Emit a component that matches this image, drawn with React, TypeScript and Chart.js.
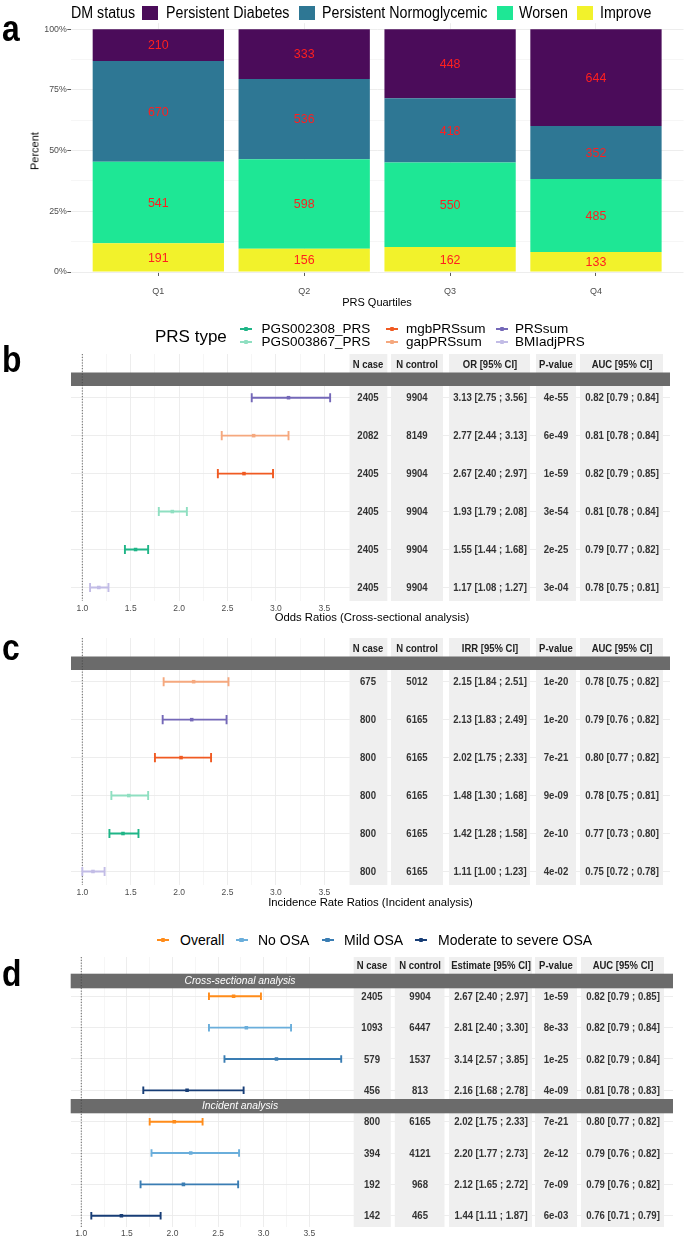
import React, { useEffect, useRef } from "react";
import { Chart, registerables } from "chart.js";

Chart.register(...registerables);

const SANS = "'Liberation Sans', Arial, Helvetica, sans-serif";

// ---------------- Panel a data ----------------
const quartiles = ["Q1", "Q2", "Q3", "Q4"];
const persistentDiabetes = [210, 333, 448, 644];
const persistentNormoglycemic = [670, 536, 418, 352];
const worsen = [541, 598, 550, 485];
const improve = [191, 156, 162, 133];
const percentTicks = [0, 12.5, 25, 37.5, 50, 62.5, 75, 87.5, 100];
const dmLegend = ["Persistent Diabetes", "Persistent Normoglycemic", "Worsen", "Improve"];

// ---------------- Panel b data (cross-sectional) ----------------
const csTypes = ["PRSsum", "gapPRSsum", "mgbPRSsum", "PGS003867_PRS", "PGS002308_PRS", "BMIadjPRS"];
const csNCase = [2405, 2082, 2405, 2405, 2405, 2405];
const csNControl = [9904, 8149, 9904, 9904, 9904, 9904];
const csOR = [3.13, 2.77, 2.67, 1.93, 1.55, 1.17];
const csLower = [2.75, 2.44, 2.4, 1.79, 1.44, 1.08];
const csUpper = [3.56, 3.13, 2.97, 2.08, 1.68, 1.27];
const csP = ["4e-55", "6e-49", "1e-59", "3e-54", "2e-25", "3e-04"];
const csAUC = [0.82, 0.81, 0.82, 0.81, 0.79, 0.78];
const csAUCLower = [0.79, 0.78, 0.79, 0.78, 0.77, 0.75];
const csAUCUpper = [0.84, 0.84, 0.85, 0.84, 0.82, 0.81];

// ---------------- Panel c data (incident) ----------------
const incTypes = ["gapPRSsum", "PRSsum", "mgbPRSsum", "PGS003867_PRS", "PGS002308_PRS", "BMIadjPRS"];
const incNCase = [675, 800, 800, 800, 800, 800];
const incNControl = [5012, 6165, 6165, 6165, 6165, 6165];
const incIRR = [2.15, 2.13, 2.02, 1.48, 1.42, 1.11];
const incLower = [1.84, 1.83, 1.75, 1.3, 1.28, 1.0];
const incUpper = [2.51, 2.49, 2.33, 1.68, 1.58, 1.23];
const incP = ["1e-20", "1e-20", "7e-21", "9e-09", "2e-10", "4e-02"];
const incAUC = [0.78, 0.79, 0.8, 0.78, 0.77, 0.75];
const incAUCLower = [0.75, 0.76, 0.77, 0.75, 0.73, 0.72];
const incAUCUpper = [0.82, 0.82, 0.82, 0.81, 0.8, 0.78];

// ---------------- Panel d data (OSA strata) ----------------
const osaGroups = ["Overall", "No OSA", "Mild OSA", "Moderate to severe OSA", "Overall", "No OSA", "Mild OSA", "Moderate to severe OSA"];
const osaSections = ["Cross-sectional analysis", "Incident analysis"];
const osaNCase = [2405, 1093, 579, 456, 800, 394, 192, 142];
const osaNControl = [9904, 6447, 1537, 813, 6165, 4121, 968, 465];
const osaEst = [2.67, 2.81, 3.14, 2.16, 2.02, 2.2, 2.12, 1.44];
const osaLower = [2.4, 2.4, 2.57, 1.68, 1.75, 1.77, 1.65, 1.11];
const osaUpper = [2.97, 3.3, 3.85, 2.78, 2.33, 2.73, 2.72, 1.87];
const osaP = ["1e-59", "8e-33", "1e-25", "4e-09", "7e-21", "2e-12", "7e-09", "6e-03"];
const osaAUC = [0.82, 0.82, 0.82, 0.81, 0.8, 0.79, 0.79, 0.76];
const osaAUCLower = [0.79, 0.79, 0.79, 0.78, 0.77, 0.76, 0.76, 0.71];
const osaAUCUpper = [0.85, 0.84, 0.84, 0.83, 0.82, 0.82, 0.82, 0.79];

const ratioTicks = [1, 1.25, 1.5, 1.75, 2, 2.25, 2.5, 2.75, 3, 3.25, 3.5];

const prsLegendOrder = ["PGS002308_PRS", "PGS003867_PRS", "mgbPRSsum", "gapPRSsum", "PRSsum", "BMIadjPRS"];
const osaLegendOrder = ["Overall", "No OSA", "Mild OSA", "Moderate to severe OSA"];

// ---------------- styles ----------------
const dmColors: Record<string, string> = {
  "Persistent Diabetes": "#4B0C5A",
  "Persistent Normoglycemic": "#2E7794",
  Worsen: "#1EE795",
  Improve: "#F2F22B",
};
const prsColors: Record<string, string> = {
  PGS002308_PRS: "#1FB587",
  PGS003867_PRS: "#8FDFC1",
  mgbPRSsum: "#F05A22",
  gapPRSsum: "#F5A87E",
  PRSsum: "#7468B8",
  BMIadjPRS: "#C2BCE6",
};
const osaColors: Record<string, string> = {
  Overall: "#FF8C1A",
  "No OSA": "#6AAEDB",
  "Mild OSA": "#3A7DB3",
  "Moderate to severe OSA": "#173D76",
};

const ci = (e: number, l: number, u: number) => `${e.toFixed(2)} [${l.toFixed(2)} ; ${u.toFixed(2)}]`;
const isMajorRatio = (v: number) => Math.abs(v * 2 - Math.round(v * 2)) < 1e-9;

// ---------------- text helper ----------------
type TP = {
  x: number; y: number; children: React.ReactNode; size?: number;
  anchor?: "start" | "middle" | "end"; weight?: number; color?: string;
  italic?: boolean; sx?: number; baseline?: boolean; rotate?: boolean;
};
function T({ x, y, children, size = 11, anchor = "start", weight = 400, color = "#000", italic = false, sx = 1, baseline = false, rotate = false }: TP) {
  const common: React.CSSProperties = {
    position: "absolute", lineHeight: `${size}px`, fontSize: size, fontFamily: SANS,
    fontWeight: weight, fontStyle: italic ? "italic" : "normal", color, whiteSpace: "nowrap",
  };
  if (rotate) {
    return <div style={{ ...common, left: x, top: y, transform: "translate(-50%,-50%) rotate(-90deg)", transformOrigin: "center center" }}>{children}</div>;
  }
  const top = baseline ? y - 0.8465 * size : y - 0.4885 * size;
  let transform = `scaleX(${sx})`;
  let origin = "left center";
  if (anchor === "middle") { transform = `translateX(-50%) scaleX(${sx})`; origin = "center center"; }
  else if (anchor === "end") { transform = `translateX(-100%) scaleX(${sx})`; origin = "right center"; }
  return <div style={{ ...common, left: x, top, transform, transformOrigin: origin }}>{children}</div>;
}

function Key({ cx, cy, color }: { cx: number; cy: number; color: string }) {
  return (
    <>
      <div style={{ position: "absolute", left: cx - 6, top: cy - 1, width: 12, height: 2, background: color }} />
      <div style={{ position: "absolute", left: cx - 2.2, top: cy - 2.2, width: 4.4, height: 4.4, background: color, borderRadius: 1 }} />
    </>
  );
}

// ---------------- Panel a chart ----------------
function makeBar(canvas: HTMLCanvasElement) {
  const totals = quartiles.map((_, i) => persistentDiabetes[i] + persistentNormoglycemic[i] + worsen[i] + improve[i]);
  const stack = [
    { label: "Improve", counts: improve },
    { label: "Worsen", counts: worsen },
    { label: "Persistent Normoglycemic", counts: persistentNormoglycemic },
    { label: "Persistent Diabetes", counts: persistentDiabetes },
  ];
  const labelPlugin = {
    id: "stackLabels",
    afterDatasetsDraw(chart: any) {
      const ctx = chart.ctx;
      ctx.save();
      ctx.font = `13.5px ${SANS}`;
      ctx.fillStyle = "#FF1F1F";
      ctx.textAlign = "center";
      ctx.textBaseline = "middle";
      chart.data.datasets.forEach((_: any, di: number) => {
        chart.getDatasetMeta(di).data.forEach((el: any, i: number) => {
          const p = el.getProps(["x", "y", "base"], true);
          ctx.save();
          ctx.translate(p.x, (p.y + p.base) / 2 + 0.5);
          ctx.scale(0.92, 1);
          ctx.fillText(String(stack[di].counts[i]), 0, 0);
          ctx.restore();
        });
      });
      ctx.restore();
    },
  };
  const isMajorPct = (c: any) => c.tick && c.tick.value % 25 === 0;
  return new Chart(canvas, {
    type: "bar",
    data: {
      datasets: stack.map((s) => ({
        label: s.label,
        data: quartiles.map((_, i) => ({ x: i, y: (s.counts[i] / totals[i]) * 100 })),
        backgroundColor: dmColors[s.label],
        borderWidth: 0,
        barPercentage: 0.9,
        categoryPercentage: 1,
      })),
    },
    options: {
      responsive: false,
      animation: false,
      events: [],
      layout: { padding: { top: 23.2, left: 0, right: 1.5, bottom: 0 } },
      plugins: { legend: { display: false }, tooltip: { enabled: false } },
      scales: {
        x: {
          type: "linear", stacked: true, min: -0.6, max: 3.6, offset: false,
          afterBuildTicks: (s: any) => { s.ticks = quartiles.map((_, i) => ({ value: i })); },
          afterFit: (s: any) => { s.height = 38; },
          ticks: { callback: (v: any) => quartiles[v] ?? "", font: { size: 9, family: SANS }, color: "#4D4D4D", padding: 10, autoSkip: false, maxRotation: 0 },
          grid: { offset: false, color: "#EBEBEB", lineWidth: 0.9, tickColor: "#333", tickLength: 4, tickWidth: 0.8 },
          border: { display: false },
        },
        y: {
          type: "linear", stacked: true, min: 0, max: 102.5,
          afterBuildTicks: (s: any) => { s.ticks = percentTicks.map((v) => ({ value: v })); },
          afterFit: (s: any) => { s.width = 70.8; },
          ticks: { callback: (v: any) => (v % 25 === 0 ? `${v}%` : ""), font: { size: 8.8, family: SANS }, color: "#4D4D4D", padding: 0.5, autoSkip: false },
          grid: {
            color: "#EBEBEB",
            lineWidth: (c: any) => (isMajorPct(c) ? 0.9 : 0.45),
            tickColor: (c: any) => (isMajorPct(c) ? "#333" : "rgba(0,0,0,0)"),
            tickLength: 3.5, tickWidth: 0.8,
          },
          border: { display: false },
        },
      },
    } as any,
    plugins: [labelPlugin],
  });
}

// ---------------- Forest charts ----------------
type ForestSpec = {
  labels: string[]; est: number[]; lo: number[]; hi: number[]; colors: string[];
  xMin: number; xMax: number; yMin: number; yMax: number;
  padTop: number; padLeft: number; padRight: number; axisH: number; tickPad: number;
  columns: number[][]; strips: number[][]; capFrac: number; lineW: number;
};

function makeForest(canvas: HTMLCanvasElement, s: ForestSpec) {
  const rows = s.est.map((_, i) => i);
  const decor = {
    id: "forestDecor",
    beforeDatasetsDraw(chart: any) {
      const { ctx, chartArea: a } = chart;
      const xs = chart.scales.x;
      const ys = chart.scales.y;
      ctx.save();
      ctx.fillStyle = "#EFEFEF";
      s.columns.forEach(([l, r]) => ctx.fillRect(l, a.top, r - l, a.bottom - a.top));
      ctx.fillStyle = "#6B6B6B";
      s.strips.forEach(([t, b]) => ctx.fillRect(a.left, t, a.right - a.left, b - t));
      const x1 = xs.getPixelForValue(1);
      ctx.strokeStyle = "#444";
      ctx.lineWidth = 0.8;
      ctx.setLineDash([1.2, 1.6]);
      ctx.beginPath();
      ctx.moveTo(x1, a.top);
      ctx.lineTo(x1, a.bottom);
      ctx.stroke();
      ctx.setLineDash([]);
      ctx.lineWidth = s.lineW;
      rows.forEach((i) => {
        const y = ys.getPixelForValue(i);
        const cap = Math.abs(ys.getPixelForValue(i + s.capFrac) - y);
        const xl = xs.getPixelForValue(s.lo[i]);
        const xr = xs.getPixelForValue(s.hi[i]);
        ctx.strokeStyle = s.colors[i];
        ctx.beginPath();
        ctx.moveTo(xl, y); ctx.lineTo(xr, y);
        ctx.moveTo(xl, y - cap); ctx.lineTo(xl, y + cap);
        ctx.moveTo(xr, y - cap); ctx.lineTo(xr, y + cap);
        ctx.stroke();
      });
      ctx.restore();
    },
  };
  return new Chart(canvas, {
    type: "scatter",
    data: {
      datasets: rows.map((i) => ({
        label: s.labels[i],
        data: [{ x: s.est[i], y: i }],
        backgroundColor: s.colors[i],
        borderColor: s.colors[i],
        pointRadius: 2.5,
        pointStyle: "rect",
        borderWidth: 0,
      })),
    },
    options: {
      responsive: false,
      animation: false,
      events: [],
      layout: { padding: { top: s.padTop, left: s.padLeft, right: s.padRight, bottom: 0 } },
      plugins: { legend: { display: false }, tooltip: { enabled: false } },
      scales: {
        x: {
          type: "linear", min: s.xMin, max: s.xMax,
          afterBuildTicks: (sc: any) => { sc.ticks = ratioTicks.map((v) => ({ value: v })); },
          afterFit: (sc: any) => { sc.height = s.axisH; },
          ticks: {
            callback: (v: any) => (isMajorRatio(Number(v)) ? Number(v).toFixed(1) : ""),
            font: { size: 8.5, family: SANS }, color: "#4D4D4D", padding: s.tickPad, autoSkip: false, maxRotation: 0,
          },
          grid: {
            color: "#EBEBEB",
            lineWidth: (c: any) => (c.tick && isMajorRatio(c.tick.value) ? 0.9 : 0.45),
            drawTicks: false,
          },
          border: { display: false },
        },
        y: {
          type: "linear", reverse: true, min: s.yMin, max: s.yMax,
          afterBuildTicks: (sc: any) => { sc.ticks = rows.map((v) => ({ value: v })); },
          afterFit: (sc: any) => { sc.width = 0; },
          ticks: { display: false },
          grid: { color: "#EBEBEB", lineWidth: 0.9, drawTicks: false },
          border: { display: false },
        },
      },
    } as any,
    plugins: [decor],
  });
}

// ---------------- layout constants ----------------
const B_TOP = 345;
const C_SHIFT = 284;
const D_TOP = 950;
const bcColumns = [[349.5, 387.3], [391, 443], [449, 530], [536, 576], [580, 663]];
const dColumns = [[353.7, 390.8], [394.8, 444.5], [449, 532], [535, 577], [581, 664]];
const colMid = (c: number[][]) => c.map(([l, r]) => (l + r) / 2);

function Table({ headers, colX, headerY, rowY0, rowStep, rows }: { headers: string[]; colX: number[]; headerY: number; rowY0: number; rowStep: number; rows: string[][] }) {
  return (
    <>
      {headers.map((h, j) => (
        <T key={"h" + j} x={colX[j]} y={headerY} anchor="middle" size={10.8} weight={700} sx={0.88} color="#222">{h}</T>
      ))}
      {rows.map((r, i) =>
        r.map((cell, j) => (
          <T key={i + "-" + j} x={colX[j]} y={rowY0 + rowStep * i} anchor="middle" size={10.8} weight={700} sx={0.89} color="#333">{cell}</T>
        ))
      )}
    </>
  );
}

export default function App() {
  const aRef = useRef<HTMLCanvasElement>(null);
  const bRef = useRef<HTMLCanvasElement>(null);
  const cRef = useRef<HTMLCanvasElement>(null);
  const dRef = useRef<HTMLCanvasElement>(null);

  useEffect(() => {
    Chart.defaults.font.family = SANS;
    const charts: Chart[] = [];
    charts.push(makeBar(aRef.current!));
    const bcBase = {
      xMin: 0.883, xMax: 7.071, yMin: -1.151, yMax: 5.356,
      padTop: 9, padLeft: 71, padRight: 15, axisH: 19, tickPad: 2.2,
      columns: bcColumns, strips: [[372.5 - B_TOP, 386 - B_TOP]], capFrac: 0.12, lineW: 1.9,
    };
    charts.push(makeForest(bRef.current!, {
      ...bcBase, labels: csTypes, est: csOR, lo: csLower, hi: csUpper, colors: csTypes.map((t) => prsColors[t]),
    }));
    charts.push(makeForest(cRef.current!, {
      ...bcBase, labels: incTypes, est: incIRR, lo: incLower, hi: incUpper, colors: incTypes.map((t) => prsColors[t]),
    }));
    charts.push(makeForest(dRef.current!, {
      labels: osaGroups, est: osaEst, lo: osaLower, hi: osaUpper, colors: osaGroups.map((g) => osaColors[g]),
      xMin: 0.884, xMax: 7.488, yMin: -1.254, yMax: 7.36,
      padTop: 7, padLeft: 70.7, padRight: 12, axisH: 12, tickPad: 1.9,
      columns: dColumns, strips: [[973.7 - D_TOP, 988.3 - D_TOP], [1099 - D_TOP, 1113.3 - D_TOP]], capFrac: 0.12, lineW: 1.9,
    }));
    return () => charts.forEach((c) => c.destroy());
  }, []);

  const csRows = csTypes.map((_, i) => [String(csNCase[i]), String(csNControl[i]), ci(csOR[i], csLower[i], csUpper[i]), csP[i], ci(csAUC[i], csAUCLower[i], csAUCUpper[i])]);
  const incRows = incTypes.map((_, i) => [String(incNCase[i]), String(incNControl[i]), ci(incIRR[i], incLower[i], incUpper[i]), incP[i], ci(incAUC[i], incAUCLower[i], incAUCUpper[i])]);
  const osaRows = osaGroups.map((_, i) => [String(osaNCase[i]), String(osaNControl[i]), ci(osaEst[i], osaLower[i], osaUpper[i]), osaP[i], ci(osaAUC[i], osaAUCLower[i], osaAUCUpper[i])]);

  const dmSwatchX = [141.7, 298.5, 497, 577];
  const dmTextX = [166, 322, 519, 600];
  const prsKeyX = [246, 392, 502];
  const prsTextX = [261.5, 406, 515];
  const prsRowY = [328.7, 342];
  const osaKeyX = [163.3, 241.5, 327.5, 421];
  const osaTextX = [180, 258, 344, 438];

  return (
    <div style={{ position: "absolute", left: 0, top: 0, width: 685, height: 1239, background: "#fff", overflow: "hidden", fontFamily: SANS }}>
      <canvas ref={aRef} width={685} height={310} style={{ position: "absolute", left: 0, top: 0, width: 685, height: 310 }} />
      <canvas ref={bRef} width={685} height={275} style={{ position: "absolute", left: 0, top: B_TOP, width: 685, height: 275 }} />
      <canvas ref={cRef} width={685} height={275} style={{ position: "absolute", left: 0, top: B_TOP + C_SHIFT, width: 685, height: 275 }} />
      <canvas ref={dRef} width={685} height={289} style={{ position: "absolute", left: 0, top: D_TOP, width: 685, height: 289 }} />

      {/* panel letters */}
      <T x={2} y={41.7} size={37} weight={700} sx={0.86} baseline>a</T>
      <T x={2} y={372} size={37} weight={700} sx={0.86} baseline>b</T>
      <T x={2} y={660} size={37} weight={700} sx={0.86} baseline>c</T>
      <T x={2} y={986.7} size={37} weight={700} sx={0.86} baseline>d</T>

      {/* panel a legend */}
      <T x={70.7} y={12.7} size={16} sx={0.89}>DM status</T>
      {dmLegend.map((k, i) => (
        <React.Fragment key={k}>
          <div style={{ position: "absolute", left: dmSwatchX[i], top: 5.7, width: 16, height: 14, background: dmColors[k] }} />
          <T x={dmTextX[i]} y={12.7} size={16} sx={0.89}>{k}</T>
        </React.Fragment>
      ))}
      <T x={35} y={150.5} size={11} rotate>Percent</T>
      <T x={377} y={302.5} size={11} anchor="middle">PRS Quartiles</T>

      {/* panel b legend */}
      <T x={155} y={336} size={17}>PRS type</T>
      {prsLegendOrder.map((k, i) => {
        const col = Math.floor(i / 2);
        const row = i % 2;
        return (
          <React.Fragment key={k}>
            <Key cx={prsKeyX[col]} cy={prsRowY[row]} color={prsColors[k]} />
            <T x={prsTextX[col]} y={prsRowY[row]} size={13.5}>{k}</T>
          </React.Fragment>
        );
      })}

      {/* panel b table */}
      <Table headers={["N case", "N control", "OR [95% CI]", "P-value", "AUC [95% CI]"]} colX={colMid(bcColumns)} headerY={364.3} rowY0={397.7} rowStep={37.96} rows={csRows} />
      <T x={372} y={617.3} size={11.3} anchor="middle">Odds Ratios (Cross-sectional analysis)</T>

      {/* panel c table */}
      <Table headers={["N case", "N control", "IRR [95% CI]", "P-value", "AUC [95% CI]"]} colX={colMid(bcColumns)} headerY={364.3 + C_SHIFT} rowY0={397.7 + C_SHIFT} rowStep={37.96} rows={incRows} />
      <T x={370.5} y={902.7} size={11.3} anchor="middle">Incidence Rate Ratios (Incident analysis)</T>

      {/* panel d legend */}
      {osaLegendOrder.map((k, i) => (
        <React.Fragment key={k}>
          <Key cx={osaKeyX[i]} cy={940} color={osaColors[k]} />
          <T x={osaTextX[i]} y={940} size={14}>{k}</T>
        </React.Fragment>
      ))}

      {/* panel d table */}
      <Table headers={["N case", "N control", "Estimate [95% CI]", "P-value", "AUC [95% CI]"]} colX={colMid(dColumns)} headerY={965.7} rowY0={996.3} rowStep={31.34} rows={osaRows} />
      <T x={240} y={981} size={10.3} anchor="middle" italic color="#fff">{osaSections[0]}</T>
      <T x={240} y={1106} size={10.3} anchor="middle" italic color="#fff">{osaSections[1]}</T>
    </div>
  );
}
